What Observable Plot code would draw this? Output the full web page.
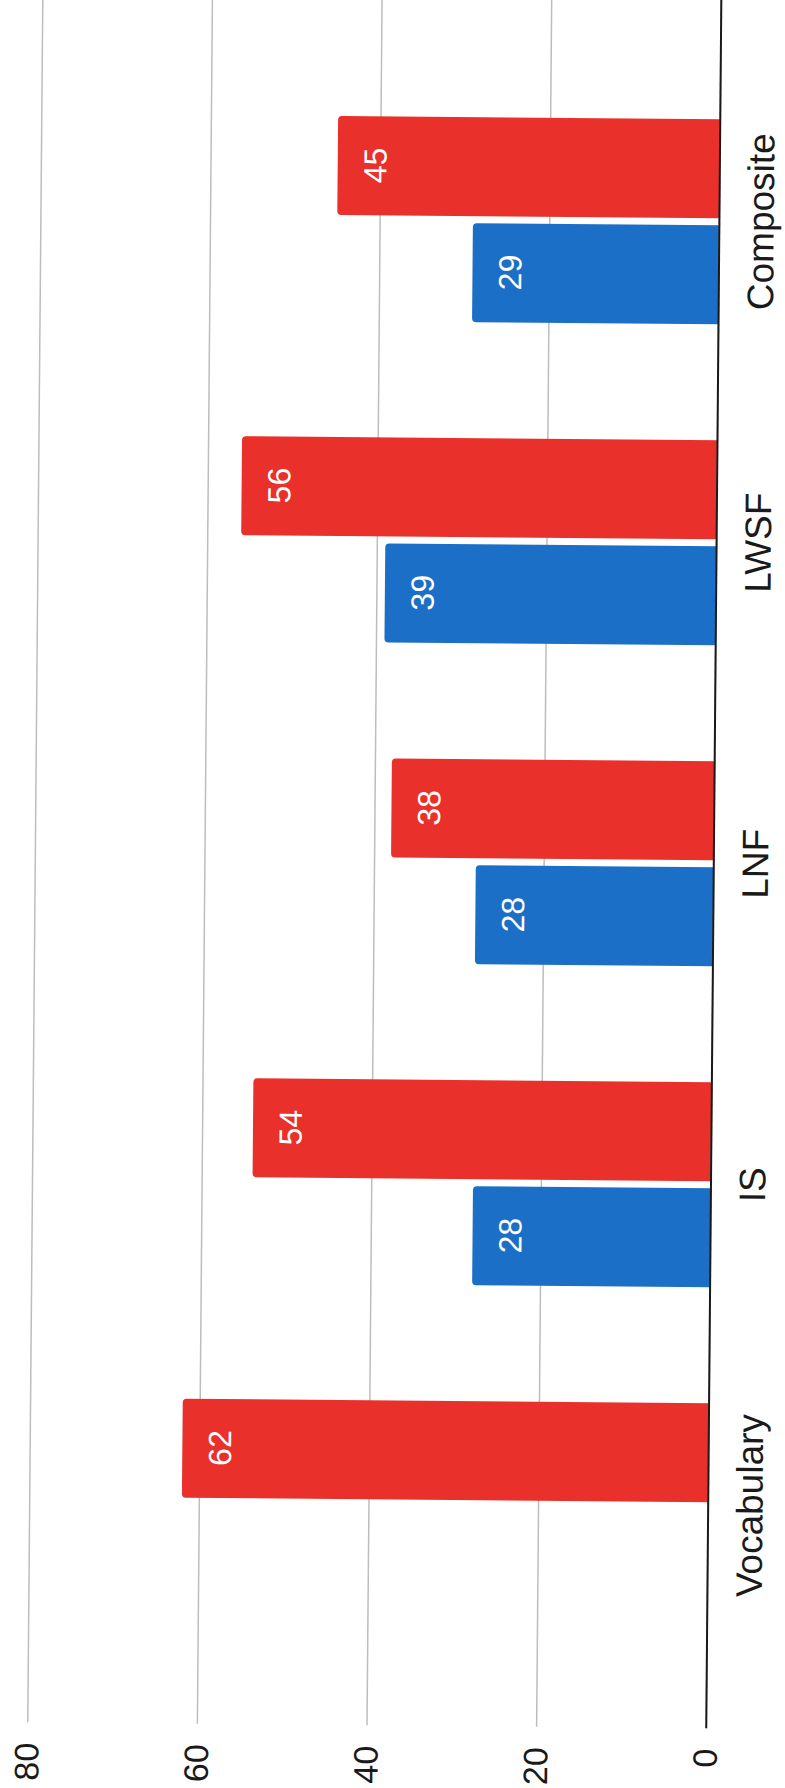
<!DOCTYPE html>
<html>
<head>
<meta charset="utf-8">
<script src="https://cdn.jsdelivr.net/npm/d3@7"></script>
<script src="https://cdn.jsdelivr.net/npm/@observablehq/plot@0.6"></script>
<style>
  html, body { margin: 0; padding: 0; background: #fff; }
  #page { position: relative; width: 785px; height: 1788px; overflow: hidden; background: #fff; }
  /* the chart is laid out landscape and turned on its side */
  #chart {
    position: absolute;
    left: -501.5px; top: 501.5px;
    width: 1788px; height: 785px;
    transform-origin: 894px 392.5px;
    transform: rotate(-89.5deg);
  }
  #chart svg { overflow: visible; max-width: none !important; display: block; }
</style>
</head>
<body>
<div id="page"><div id="chart"></div></div>
<script>
// Subtest categories, in display order
const categories = ["Vocabulary", "IS", "LNF", "LWSF", "Composite"];
// Scores for the two groups (no blue score for Vocabulary)
const blueScores = [null, 28, 28, 39, 29];
const redScores = [62, 54, 38, 56, 45];
// Value axis ticks
const valueTicks = [0, 20, 40, 60, 80];

const BLUE = "#1c6fc6";
const RED = "#e9302a";

const blueData = categories
  .map((category, i) => ({category, value: blueScores[i]}))
  .filter(d => d.value != null);
const redData = categories
  .map((category, i) => ({category, value: redScores[i]}))
  .filter(d => d.value != null);

const chart = Plot.plot({
  width: 1788,
  height: 785,
  marginLeft: 63,
  marginRight: -4,
  marginTop: 34,
  marginBottom: 72.5,
  style: {fontFamily: "'Liberation Sans', Arial, sans-serif", fontSize: "34px", color: "#1a1a1a", background: "transparent"},
  x: {domain: categories, paddingInner: 0.3614, paddingOuter: 0.3738, label: null},
  y: {domain: [0, 80], ticks: valueTicks, label: null},
  marks: [
    Plot.gridY(valueTicks, {stroke: "#bdbdbd", strokeOpacity: 1, strokeWidth: 1.5}),
    Plot.barY(blueData, {x: "category", y: "value", fill: BLUE, insetRight: 106, insetBottom: -6, rx: 4, clip: true}),
    Plot.barY(redData, {x: "category", y: "value", fill: RED, insetLeft: 106, insetBottom: -6, rx: 4, clip: true}),
    Plot.ruleY([0], {stroke: "#1a1a1a", strokeWidth: 2}),
    Plot.text(blueData, {x: "category", y: "value", text: d => String(d.value), dx: -53, dy: 38, fill: "white", fontSize: 32}),
    Plot.text(redData, {x: "category", y: "value", text: d => String(d.value), dx: 53, dy: 38, fill: "white", fontSize: 32}),
    Plot.axisY(valueTicks, {tickSize: 0, tickPadding: 21, fontSize: 34, label: null}),
    Plot.axisX({tickSize: 0, tickPadding: 28, fontSize: 37, label: null})
  ]
});

document.getElementById("chart").appendChild(chart);
</script>
</body>
</html>
